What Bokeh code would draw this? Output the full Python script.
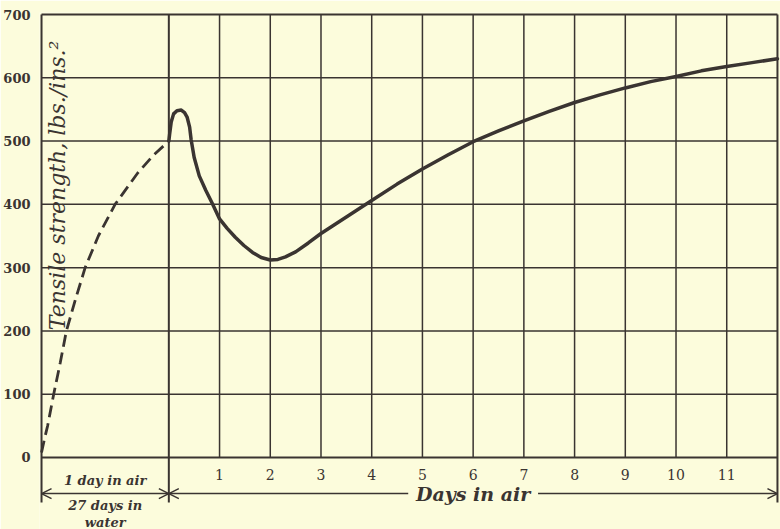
from bokeh.plotting import figure
from bokeh.models import Range1d, FixedTicker, Arrow, OpenHead, Label
from bokeh.embed import file_html
from bokeh.resources import INLINE
import math

# ---- data ----
# dashed curve: first period (1 day in air, 27 days in water); x in day-units left of 0
water_x = [-2.51, -2.45, -2.39, -2.27, -2.14, -2.02, -1.84, -1.65, -1.39, -1.06, -0.61, -0.30, 0.00]
water_y = [8, 30, 50, 100, 150, 200, 250, 300, 350, 400, 450, 478, 500]

# solid curve: days in air
air_x = [0.00, 0.016, 0.047, 0.094, 0.16, 0.245, 0.31, 0.36, 0.41, 0.44, 0.50, 0.60, 0.73, 0.86,
         1.00, 1.15, 1.31, 1.48, 1.65, 1.82, 2.00, 2.15, 2.30, 2.50, 2.75, 3.00, 3.50, 4.00,
         4.50, 5.00, 5.50, 6.00, 6.50, 7.00, 7.50, 8.00, 8.50, 9.00, 9.50, 10.00, 10.50,
         11.00, 11.50, 12.00]
air_y = [500, 511, 530, 543, 548, 549, 545, 538, 522, 502, 474, 445, 422, 401,
         377, 362, 348, 335, 324, 316, 312, 313, 317, 325, 339, 354, 380, 406,
         432, 456, 478, 499, 516, 532, 547, 561, 573, 584, 594, 602, 611,
         618, 624, 630]

y_ticks = [0, 100, 200, 300, 400, 500, 600, 700]
x_ticks = [1, 2, 3, 4, 5, 6, 7, 8, 9, 10, 11]
x_start, x_split, x_end = -2.51, 0, 12
y_min, y_max = 0, 700

BG = "#fcfcdc"
INK = "#3a3431"

# frame covers the whole lower area so the bracket below the chart can be drawn
p = figure(width=780, height=529, output_backend="svg", toolbar_location=None,
           x_range=Range1d(-2.55, 12.06), y_range=Range1d(-113.8, 703.2),
           min_border_left=36, min_border_right=0, min_border_top=12, min_border_bottom=0)
p.background_fill_color = BG
p.border_fill_color = BG
p.outline_line_color = None
p.grid.visible = False

p.yaxis.ticker = FixedTicker(ticks=y_ticks)
p.yaxis.axis_line_color = None
p.yaxis.major_tick_line_color = None
p.yaxis.minor_tick_line_color = None
p.yaxis.major_label_standoff = 3
p.yaxis.major_label_text_font = "DejaVu Serif"
p.yaxis.major_label_text_font_style = "bold"
p.yaxis.major_label_text_font_size = "13px"
p.yaxis.major_label_text_color = INK

p.xaxis.fixed_location = 0
p.xaxis.ticker = FixedTicker(ticks=x_ticks)
p.xaxis.axis_line_color = None
p.xaxis.major_tick_line_color = None
p.xaxis.minor_tick_line_color = None
p.xaxis.major_label_standoff = 6
p.xaxis.major_label_text_font = "DejaVu Serif"
p.xaxis.major_label_text_font_size = "14px"
p.xaxis.major_label_text_color = INK

# grid
p.segment(x0=x_ticks, y0=[y_min] * len(x_ticks), x1=x_ticks, y1=[y_max] * len(x_ticks),
          line_color=INK, line_width=1.5)
inner_y = y_ticks[1:-1]
p.segment(x0=[x_start] * len(inner_y), y0=inner_y, x1=[x_end] * len(inner_y), y1=inner_y,
          line_color=INK, line_width=1.5)

# frame lines and bracket verticals
y_tick_end = -71
p.segment(x0=[x_start, x_start], y0=[y_min, y_max], x1=[x_end, x_end], y1=[y_min, y_max],
          line_color=INK, line_width=2)
p.segment(x0=[x_start, x_split, x_end], y0=[y_max] * 3, x1=[x_start, x_split, x_end],
          y1=[y_tick_end] * 3, line_color=INK, line_width=2)

p.line(water_x, water_y, line_color=INK, line_width=2.8, line_dash="12 6")
p.line(air_x, air_y, line_color=INK, line_width=3.5, line_join="round", line_cap="round")

# y title inside the plot
p.add_layout(Label(x=-2.19, y=430, text="Tensile strength, lbs./ins.²", angle=math.pi / 2,
                   text_font="DejaVu Serif", text_font_style="italic", text_font_size="22px",
                   text_color=INK, text_align="center", text_baseline="middle"))

# bracket below the chart
y_arrow = -57
head = dict(size=10, line_color=INK, line_width=1.5)
p.add_layout(Arrow(x_start=x_start, y_start=y_arrow, x_end=x_split, y_end=y_arrow,
                   start=OpenHead(**head), end=OpenHead(**head),
                   line_color=INK, line_width=1.5))
p.add_layout(Arrow(x_start=x_split, y_start=y_arrow, x_end=4.72, y_end=y_arrow,
                   start=OpenHead(**head), end=None, line_color=INK, line_width=1.5))
p.add_layout(Arrow(x_start=7.28, y_start=y_arrow, x_end=x_end, y_end=y_arrow,
                   start=None, end=OpenHead(**head), line_color=INK, line_width=1.5))

p.add_layout(Label(x=6, y=y_arrow, text="Days in air", text_font="DejaVu Serif",
                   text_font_style="bold italic", text_font_size="19px", text_color=INK,
                   text_align="center", text_baseline="middle"))
mid = (x_start + x_split) / 2
p.add_layout(Label(x=mid, y=-36, text="1 day in air", text_font="DejaVu Serif",
                   text_font_style="bold italic", text_font_size="13px", text_color=INK,
                   text_align="center", text_baseline="middle"))
p.add_layout(Label(x=mid, y=-76, text="27 days in", text_font="DejaVu Serif",
                   text_font_style="bold italic", text_font_size="13px", text_color=INK,
                   text_align="center", text_baseline="middle"))
p.add_layout(Label(x=mid, y=-102, text="water", text_font="DejaVu Serif",
                   text_font_style="bold italic", text_font_size="13px", text_color=INK,
                   text_align="center", text_baseline="middle"))

open("out.html", "w").write(file_html(p, INLINE))
